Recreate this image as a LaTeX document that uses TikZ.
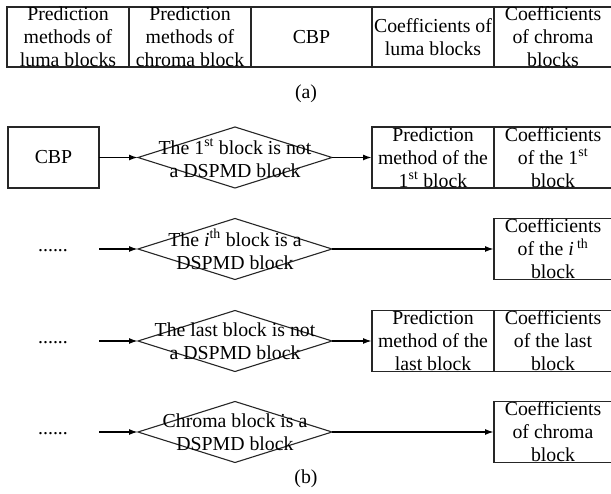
\documentclass[tikz,border=0pt]{standalone}
\usepackage{fontspec}
\setmainfont{Liberation Serif}
\usetikzlibrary{shapes.geometric,arrows.meta}
\begin{document}
\begin{tikzpicture}[x=1pt,y=-1pt,
  txt/.style={align=center,inner sep=0pt,font=\fontsize{19.8}{23}\selectfont},
  cellbox/.style={draw=black!85,line width=1.1pt,rectangle,inner sep=0pt,outer sep=0pt,minimum height=61pt},
  dia/.style={draw=black!85,line width=1.1pt,diamond,inner sep=0pt,outer sep=0pt,minimum width=194pt,minimum height=61pt},
  arr/.style={line width=1.7pt,-{Latex[length=9pt,width=6pt]}}
]
\useasboundingbox (0,0) rectangle (611,494);

% (a) table
\node[cellbox,minimum width=122pt,minimum height=60pt] (a1) at (68,37) {};
\node[cellbox,minimum width=122pt,minimum height=60pt] (a2) at (190,37) {};
\node[cellbox,minimum width=121pt,minimum height=60pt] (a3) at (311.5,37) {};
\node[cellbox,minimum width=122pt,minimum height=60pt] (a4) at (433,37) {};
\node[cellbox,minimum width=121pt,minimum height=60pt] (a5) at (554.5,37) {};
\node[txt] (ta1) at (68,36.5) {Prediction\\methods of\\luma blocks};
\node[txt] (ta2) at (190,36.5) {Prediction\\methods of\\chroma block};
\node[txt] (ta3) at (311.5,37) {CBP};
\node[txt] (ta4) at (433,37) {Coefficients of\\luma blocks};
\node[txt] (ta5) at (553,36.5) {Coefficients\\of chroma\\blocks};
\node[txt] (capa) at (306,94) {(a)};

% row 1
\node[cellbox,minimum width=91pt] (cbp) at (53.5,157.5) {};
\node[txt] (tcbp) at (53.5,157.5) {CBP};
\node[dia] (d1) at (235,157.5) {};
\node[txt] (td1) at (235,158) {The 1\textsuperscript{st} block is not\\a DSPMD block};
\node[cellbox,minimum width=122pt] (p1) at (433,157.5) {};
\node[txt] (tp1) at (433,157.5) {Prediction\\method of the\\1\textsuperscript{st} block};
\node[cellbox,minimum width=121pt] (k1) at (554.5,157.5) {};
\node[txt] (tk1) at (553,157.5) {Coefficients\\of the 1\textsuperscript{st}\\block};
\draw[arr] (cbp.east) -- (d1.west);
\draw[arr] (d1.east) -- (p1.west);

% row 2
\node[txt] (dots2) at (53,251) {......};
\coordinate (s2) at (99,249);
\node[dia] (d2) at (235,249) {};
\node[txt] (td2) at (235,249.5) {The \textit{i}\textsuperscript{th} block is a\\DSPMD block};
\node[cellbox,minimum width=121pt] (k2) at (554.5,249) {};
\node[txt] (tk2) at (553,249) {Coefficients\\of the \textit{i}\,\textsuperscript{th}\\block};
\draw[arr] (s2) -- (d2.west);
\draw[arr] (d2.east) -- (k2.west);

% row 3
\node[txt] (dots3) at (53,343) {......};
\coordinate (s3) at (99,341);
\node[dia] (d3) at (235,341) {};
\node[txt] (td3) at (235,341.5) {The last block is not\\a DSPMD block};
\node[cellbox,minimum width=122pt] (p3) at (433,341) {};
\node[txt] (tp3) at (433,341) {Prediction\\method of the\\last block};
\node[cellbox,minimum width=121pt] (k3) at (554.5,341) {};
\node[txt] (tk3) at (553,341) {Coefficients\\of the last\\block};
\draw[arr] (s3) -- (d3.west);
\draw[arr] (d3.east) -- (p3.west);

% row 4
\node[txt] (dots4) at (53,434) {......};
\coordinate (s4) at (99,432);
\node[dia] (d4) at (235,432) {};
\node[txt] (td4) at (235,432.5) {Chroma block is a\\DSPMD block};
\node[cellbox,minimum width=121pt] (k4) at (554.5,432) {};
\node[txt] (tk4) at (553,432) {Coefficients\\of chroma\\block};
\draw[arr] (s4) -- (d4.west);
\draw[arr] (d4.east) -- (k4.west);

\node[txt] (capb) at (306,479) {(b)};
\end{tikzpicture}
\end{document}
